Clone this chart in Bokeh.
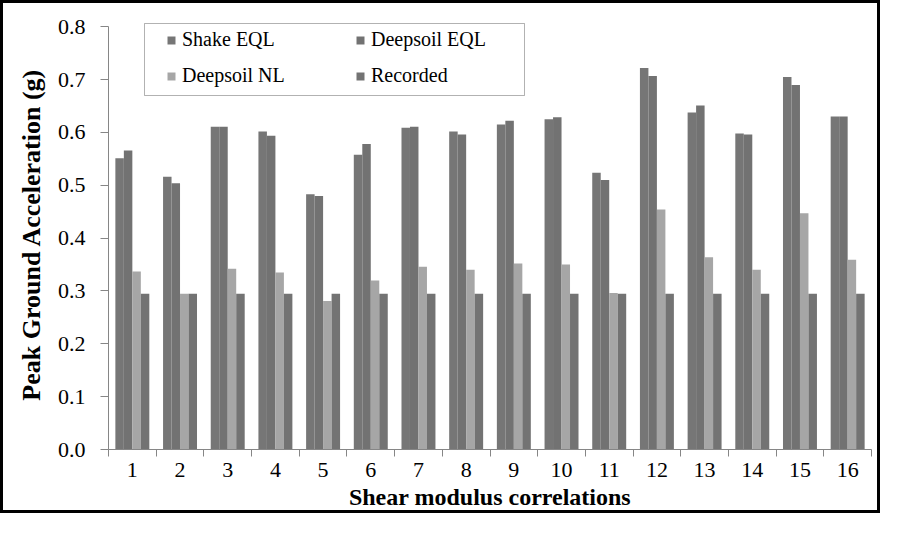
from bokeh.plotting import figure
from bokeh.models import (ColumnDataSource, Range1d, FixedTicker, NumeralTickFormatter,
                          Legend, LegendItem, BoxAnnotation)
from bokeh.transform import dodge
from bokeh.embed import file_html
from bokeh.resources import INLINE

# ---- data ----
categories = ["1", "2", "3", "4", "5", "6", "7", "8", "9", "10", "11", "12", "13", "14", "15", "16"]
shake_eql = [0.551, 0.516, 0.611, 0.602, 0.483, 0.558, 0.609, 0.602,
             0.615, 0.625, 0.524, 0.722, 0.638, 0.598, 0.705, 0.630]
deepsoil_eql = [0.566, 0.504, 0.611, 0.594, 0.480, 0.578, 0.611, 0.596,
                0.622, 0.629, 0.510, 0.707, 0.651, 0.596, 0.690, 0.630]
deepsoil_nl = [0.337, 0.295, 0.342, 0.335, 0.281, 0.320, 0.346, 0.340,
               0.352, 0.350, 0.296, 0.454, 0.364, 0.340, 0.447, 0.359]
recorded = [0.295, 0.295, 0.295, 0.295, 0.295, 0.295, 0.295, 0.295,
            0.295, 0.295, 0.295, 0.295, 0.295, 0.295, 0.295, 0.295]
series_names = ["Shake EQL", "Deepsoil EQL", "Deepsoil NL", "Recorded"]
y_ticks = [0.0, 0.1, 0.2, 0.3, 0.4, 0.5, 0.6, 0.7, 0.8]

FONT = "Liberation Serif"
AXIS_GRAY = "#868686"
colors = ["#767676", "#727272", "#a6a6a6", "#737373"]

xpos = [i + 1 for i in range(len(categories))]
source = ColumnDataSource(dict(x=xpos, s0=shake_eql, s1=deepsoil_eql, s2=deepsoil_nl, s3=recorded))

# layout (pixels)
W, H = 880, 513
BORDER_L, BORDER_R, BORDER_T, BORDER_B = 105, 12, 16, 67
frame_h = H - BORDER_T - BORDER_B
y_max = y_ticks[-1]
top_pad_px = 7.3          # room above the top tick so the legend box fits in the frame
y_top = y_max * frame_h / (frame_h - top_pad_px)

p = figure(width=W, height=H, output_backend="svg", toolbar_location=None,
           x_range=Range1d(0.5, len(categories) + 0.5), y_range=Range1d(0, y_top),
           min_border_left=BORDER_L, min_border_right=BORDER_R,
           min_border_top=BORDER_T, min_border_bottom=BORDER_B)
p.styles = {"border": "3px solid black"}
p.outline_line_color = None
p.xgrid.grid_line_color = None
p.ygrid.grid_line_color = None
p.background_fill_color = "white"
p.border_fill_color = "white"

bw = 0.178
offsets = [-1.5 * bw, -0.5 * bw, 0.5 * bw, 1.5 * bw]
renderers = []
for k in range(4):
    r = p.vbar(x=dodge("x", offsets[k], range=p.x_range), top="s%d" % k, width=bw,
               source=source, fill_color=colors[k], line_color=None)
    renderers.append(r)

# x axis: labels at category centres, ticks at boundaries
xa = p.xaxis[0]
xa.ticker = FixedTicker(ticks=xpos, minor_ticks=[v - 0.5 for v in xpos] + [xpos[-1] + 0.5])
xa.major_label_overrides = {v: c for v, c in zip(xpos, categories)}
xa.major_tick_out = 0
xa.major_tick_in = 0
xa.minor_tick_out = 7
xa.minor_tick_in = 0
xa.minor_tick_line_color = AXIS_GRAY
xa.axis_line_color = AXIS_GRAY
xa.major_label_text_font = FONT
xa.major_label_text_font_size = "22px"
xa.major_label_text_color = "black"
xa.major_label_standoff = 6
xa.axis_label = "Shear modulus correlations"
xa.axis_label_text_font = FONT
xa.axis_label_text_font_style = "bold"
xa.axis_label_text_font_size = "24px"
xa.axis_label_text_color = "black"
xa.axis_label_standoff = 4

ya = p.yaxis[0]
ya.ticker = FixedTicker(ticks=y_ticks, minor_ticks=[])
ya.bounds = (y_ticks[0], y_ticks[-1])
ya.formatter = NumeralTickFormatter(format="0.0")
ya.major_tick_out = 8
ya.major_tick_in = 0
ya.major_tick_line_color = AXIS_GRAY
ya.axis_line_color = AXIS_GRAY
ya.major_label_text_font = FONT
ya.major_label_text_font_size = "22px"
ya.major_label_text_color = "black"
ya.major_label_standoff = 15
ya.axis_label = "Peak Ground Acceleration (g)"
ya.axis_label_text_font = FONT
ya.axis_label_text_font_style = "bold"
ya.axis_label_text_font_size = "26px"
ya.axis_label_text_color = "black"
ya.axis_label_standoff = 9

# legend box
p.add_layout(BoxAnnotation(left=138, right=518, top=17, bottom=89,
                           left_units="canvas", right_units="canvas",
                           top_units="canvas", bottom_units="canvas",
                           fill_color="white", fill_alpha=1, line_color="black", line_width=1))

order = [0, 2, 1, 3]  # column-major fill -> reads row by row like the reference
legend = Legend(items=[LegendItem(label=series_names[k], renderers=[renderers[k]]) for k in order],
                ncols=2, location=(58, 362), padding=9, spacing=13,
                label_height=20, label_width=160, glyph_height=10, glyph_width=10, label_standoff=6,
                label_text_font=FONT, label_text_font_size="20px", label_text_color="black",
                border_line_color=None, background_fill_alpha=0, margin=0)
p.add_layout(legend, "center")

open("out.html", "w").write(file_html(p, INLINE))
